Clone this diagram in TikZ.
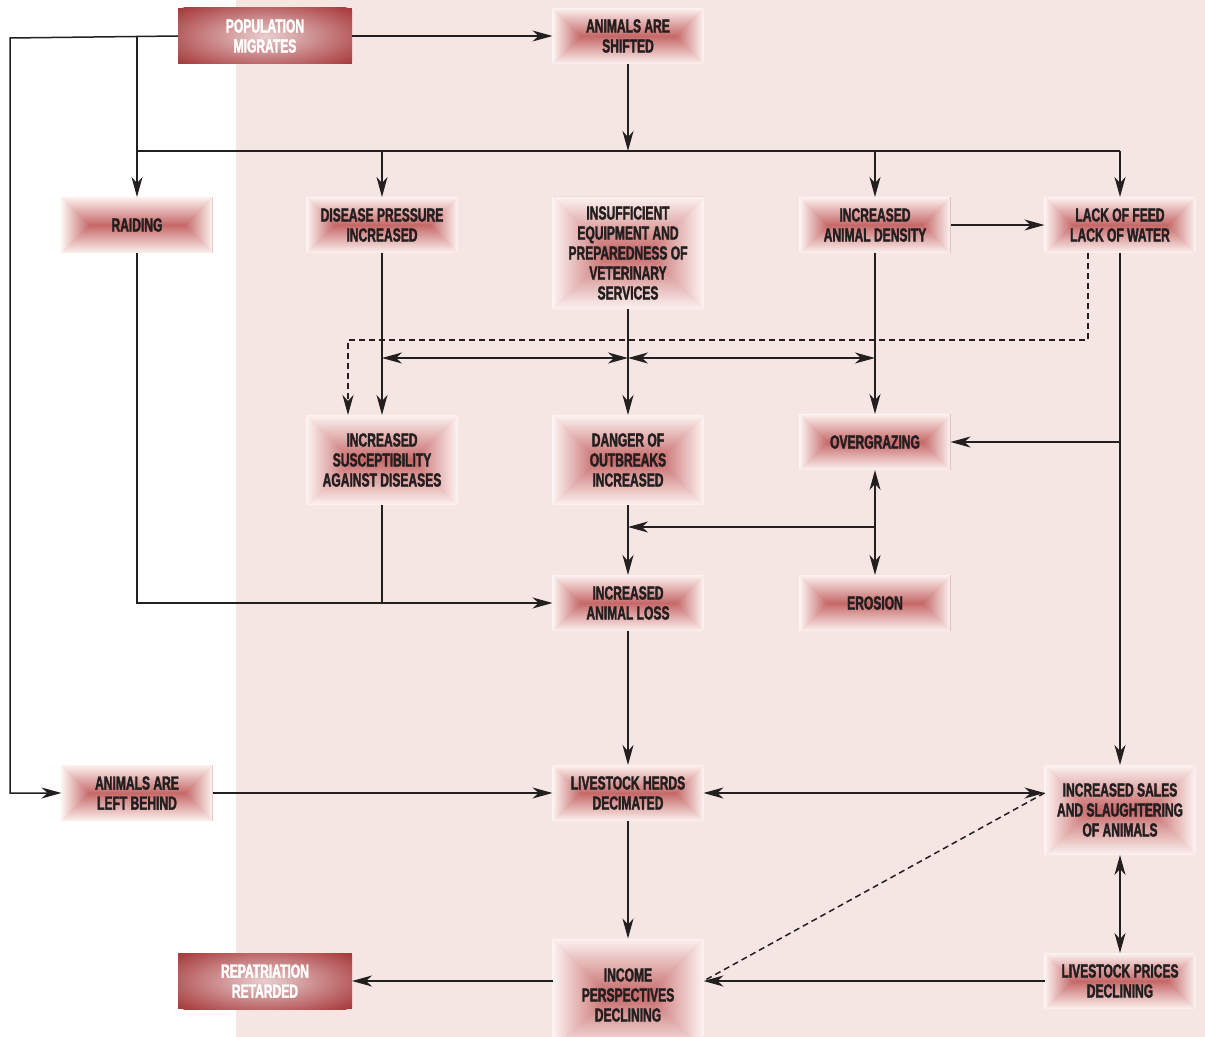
\documentclass[tikz,border=0pt]{standalone}
\usepackage{fontspec}
\newfontfamily\boxfont[FakeStretch=0.635,FakeBold=1.8]{Liberation Sans Bold}
\usetikzlibrary{arrows.meta,positioning}
\definecolor{bgpink}{RGB}{245,230,228}
\definecolor{glowred}{RGB}{198,104,104}
\definecolor{glowpale}{RGB}{252,243,241}
\definecolor{boxdark}{RGB}{168,58,60}
\definecolor{inkdark}{RGB}{35,31,32}

\begin{document}
\begin{tikzpicture}[x=0.5pt,y=-0.5pt,
  every node/.style={font=\boxfont\fontsize{9.5}{10}\selectfont,align=center,inner sep=0pt,outer sep=0pt},
  glowbox/.style={minimum width=75.5pt,text=inkdark,
    path picture={
      \coordinate (rl) at ([xshift=#1 pt]path picture bounding box.west);
      \coordinate (rr) at ([xshift=-#1 pt]path picture bounding box.east);
      \fill[glowred!50!glowpale] (path picture bounding box.south west) rectangle (path picture bounding box.north east);
      \shade[top color=glowpale,bottom color=glowred] (path picture bounding box.north west) -- (path picture bounding box.north east) -- (rr) -- (rl) -- cycle;
      \shade[top color=glowred,bottom color=glowpale] (path picture bounding box.south west) -- (path picture bounding box.south east) -- (rr) -- (rl) -- cycle;
      \shade[left color=glowpale,right color=glowred] (path picture bounding box.north west) -- (path picture bounding box.south west) -- (rl) -- cycle;
      \shade[left color=glowred,right color=glowpale] (path picture bounding box.north east) -- (path picture bounding box.south east) -- (rr) -- cycle;
    }},
  glow/.style={glowbox=14,minimum height=28pt},
  midbox/.style={glowbox=22.5,minimum height=45pt},
  bigbox/.style={glowbox=28.25,minimum height=56.5pt},
  dark/.style={minimum width=87pt,minimum height=28pt,text=white,
    path picture={
      \fill[boxdark] (path picture bounding box.south west) rectangle (path picture bounding box.north east);
      \shade[inner color=white!75!boxdark,outer color=boxdark] (path picture bounding box.center) ellipse [x radius=58pt,y radius=20pt];
    }},
  line/.style={line width=0.75pt,draw=inkdark},
  link/.style={line,-{Stealth[length=10pt,width=5.5pt,inset=3pt]}},
  both/.style={line,{Stealth[length=10pt,width=5.5pt,inset=3pt]}-{Stealth[length=10pt,width=5.5pt,inset=3pt]}},
  dline/.style={line,dash pattern=on 3pt off 2pt}]
  \useasboundingbox (0,0) rectangle (1205,1037);
  \fill[bgpink] (236,0) rectangle (1205,1037);

  % boxes
  \node[dark](pm) at (265,36) {POPULATION\\MIGRATES};
  \node[glow](shifted) at (628,36) {ANIMALS ARE\\SHIFTED};
  \node[glow](raid) at (137,225) {RAIDING};
  \node[glow](press) at (382,225) {DISEASE PRESSURE\\INCREASED};
  \node[bigbox](insuf) at (628,253) {INSUFFICIENT\\EQUIPMENT AND\\PREPAREDNESS OF\\VETERINARY\\SERVICES};
  \node[glow](dens) at (875,225) {INCREASED\\ANIMAL DENSITY};
  \node[glow](lack) at (1120,225) {LACK OF FEED\\LACK OF WATER};
  \node[midbox](susc) at (382,460) {INCREASED\\SUSCEPTIBILITY\\AGAINST DISEASES};
  \node[midbox](danger) at (628,460) {DANGER OF\\OUTBREAKS\\INCREASED};
  \node[glow](over) at (875,442) {OVERGRAZING};
  \node[glow](loss) at (628,603) {INCREASED\\ANIMAL LOSS};
  \node[glow](eros) at (875,603) {EROSION};
  \node[glow](behind) at (137,793) {ANIMALS ARE\\LEFT BEHIND};
  \node[glow](herds) at (628,793) {LIVESTOCK HERDS\\DECIMATED};
  \node[midbox](sales) at (1120,810) {INCREASED SALES\\AND SLAUGHTERING\\OF ANIMALS};
  \node[dark](repat) at (265,981) {REPATRIATION\\RETARDED};
  \node[bigbox](income) at (628,995) {INCOME\\PERSPECTIVES\\DECLINING};
  \node[glow](prices) at (1120,981) {LIVESTOCK PRICES\\DECLINING};

  % bends
  \coordinate (edge) at (10,38);
  \coordinate (bus) at (137,151);
  \coordinate (cross) at (0,358);
  \coordinate (dtop) at (1088,340);
  \coordinate (dleft) at (348,340);
  \coordinate (ov) at (0,527);

  % connectors
  \draw[link] (pm.east) -- (shifted.west);
  \draw[link] (pm.west) -- (edge) |- (behind.west);
  \draw[link] (pm.west -| raid) -- (raid.north);
  \draw[line] (bus) -- (bus -| lack);
  \draw[link] (shifted.south) -- (bus -| shifted);
  \draw[link] (bus -| press) -- (press.north);
  \draw[link] (bus -| dens) -- (dens.north);
  \draw[link] (bus -| lack) -- (lack.north);
  \draw[link] (dens.east) -- (lack.west);
  \draw[link] (raid.south) |- (loss.west);
  \draw[line] (susc.south) -- (susc.south |- loss.west);
  \draw[link] (press.south) -- (susc.north);
  \draw[link] (insuf.south) -- (danger.north);
  \draw[link] (dens.south) -- (over.north);
  \draw[both] (cross -| press) -- (cross -| insuf);
  \draw[both] (cross -| insuf) -- (cross -| dens);
  \draw[dline,-{Stealth[length=10pt,width=5.5pt,inset=3pt]}] (lack.south -| dtop) -- (dtop) -- (dleft) -- (susc.north -| dleft);
  \draw[link] (lack.south) -- (sales.north);
  \draw[link] (lack.south |- over.east) -- (over.east);
  \draw[both] (over.south) -- (eros.north);
  \draw[link] (ov -| over) -- (ov -| danger);
  \draw[link] (danger.south) -- (loss.north);
  \draw[link] (loss.south) -- (herds.north);
  \draw[link] (behind.east) -- (herds.west);
  \draw[both] (herds.east) -- (sales.west |- herds.east);
  \draw[dline] (sales.west |- herds.east) -- (income.east |- prices.west);
  \draw[link] (herds.south) -- (income.north);
  \draw[both] (sales.south) -- (prices.north);
  \draw[link] (prices.west) -- (income.east |- prices.west);
  \draw[link] (income.west |- repat.east) -- (repat.east);
\end{tikzpicture}
\end{document}
